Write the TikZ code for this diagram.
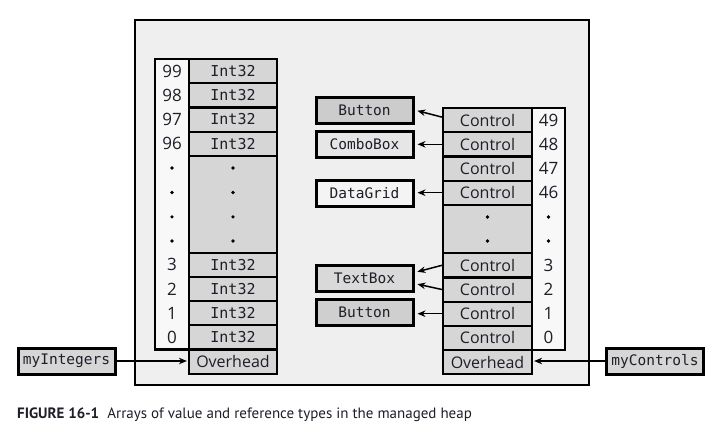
\documentclass[tikz,border=0pt]{standalone}
\usepackage{fontspec}
\setmainfont{Open Sans}
\newfontfamily\monof{DejaVu Sans Mono}
\newfontfamily\capf{PT Sans}
\usetikzlibrary{arrows.meta}
\definecolor{heapbg}{HTML}{EFEFEF}
\definecolor{cellg}{HTML}{D6D6D6}
\definecolor{idxg}{HTML}{F8F8F8}
\definecolor{refA}{HTML}{CCCCCC}
\definecolor{refB}{HTML}{E6E6E6}
\definecolor{refC}{HTML}{F4F4F4}
\definecolor{refD}{HTML}{D9D9D9}
\definecolor{txt}{HTML}{1E1E28}
\begin{document}
\begin{tikzpicture}[x=1pt,y=-1pt,
  heap/.style={draw, line width=2.5pt, fill=heapbg},
  idxframe/.style={draw, line width=2.2pt, fill=idxg, inner sep=0pt},
  icell/.style={draw, line width=2.2pt, fill=cellg, minimum width=88pt, minimum height=24.2pt, inner sep=0pt, font=\fontsize{15}{16}\monof, text=txt},
  ccell/.style={draw, line width=2.2pt, fill=cellg, minimum width=89pt, minimum height=24.2pt, inner sep=0pt, font=\fontsize{16}{17}\selectfont, text=txt},
  num/.style={inner sep=0pt, font=\fontsize{17}{18}\selectfont, text=txt},
  dot/.style={circle, fill=black, inner sep=0pt, minimum size=3.6pt},
  refbox/.style={draw, line width=3pt, minimum width=97pt, minimum height=26pt, inner sep=0pt, font=\fontsize{14.5}{16}\monof, text=txt},
  conn/.style={line width=1.5pt, -{Stealth[length=8pt,width=6.5pt]}, shorten >=3pt},
  caption/.style={inner sep=0pt, anchor=base west, font=\fontsize{15}{16}\capf, text=txt}
]
\useasboundingbox (0,0) rectangle (727,445);
% heap frame
\draw[heap] (135,20) rectangle (589,385);

% ---------- left array (Int32) ----------
\node[idxframe, minimum width=34pt, minimum height=290.4pt] (idxL) at (172,204.2) {};
\node[icell] (i99) at (233,71.1) {Int32};
\node[icell] (i98) at (233,95.3) {Int32};
\node[icell] (i97) at (233,119.5) {Int32};
\node[icell] (i96) at (233,143.7) {Int32};
\node[icell, minimum height=96.8pt] (idots) at (233,204.2) {};
\node[icell] (i3) at (233,264.7) {Int32};
\node[icell] (i2) at (233,288.9) {Int32};
\node[icell] (i1) at (233,313.1) {Int32};
\node[icell] (i0) at (233,337.3) {Int32};
\node[ccell, minimum width=88pt] (ohL) at (233,361.5) {Overhead};

\node[num] (n99) at (172,71.1) {99};
\node[num] (n98) at (172,95.3) {98};
\node[num] (n97) at (172,119.5) {97};
\node[num] (n96) at (172,143.7) {96};
\node[num] (n3) at (172,264.7) {3};
\node[num] (n2) at (172,288.9) {2};
\node[num] (n1) at (172,313.1) {1};
\node[num] (n0) at (172,337.3) {0};
\foreach \k/\y in {a/168,b/192.5,c/216.8,d/241} {
  \node[dot] (dl\k) at (172,\y) {};
  \node[dot] (dc\k) at (233,\y) {};
}

% ---------- right array (Control) ----------
\node[idxframe, minimum width=33pt, minimum height=242pt] (idxR) at (548.5,229) {};
\node[ccell] (c49) at (487.5,120.1) {Control};
\node[ccell] (c48) at (487.5,144.3) {Control};
\node[ccell] (c47) at (487.5,168.5) {Control};
\node[ccell] (c46) at (487.5,192.7) {Control};
\node[ccell, minimum height=48.4pt] (cdots) at (487.5,229) {};
\node[ccell] (c3) at (487.5,265.3) {Control};
\node[ccell] (c2) at (487.5,289.5) {Control};
\node[ccell] (c1) at (487.5,313.7) {Control};
\node[ccell] (c0) at (487.5,337.9) {Control};
\node[ccell] (ohR) at (487.5,362.1) {Overhead};

\node[num] (m49) at (548.5,120.1) {49};
\node[num] (m48) at (548.5,144.3) {48};
\node[num] (m47) at (548.5,168.5) {47};
\node[num] (m46) at (548.5,192.7) {46};
\node[num] (m3) at (548.5,265.3) {3};
\node[num] (m2) at (548.5,289.5) {2};
\node[num] (m1) at (548.5,313.7) {1};
\node[num] (m0) at (548.5,337.9) {0};
\foreach \k/\y in {a/217,b/241} {
  \node[dot] (dr\k) at (548.5,\y) {};
  \node[dot] (dm\k) at (487.5,\y) {};
}

% ---------- referenced objects ----------
\node[refbox, fill=refA] (btnA) at (364.5,110) {Button};
\node[refbox, fill=refB] (combo) at (364.5,144.5) {ComboBox};
\node[refbox, fill=refC] (grid) at (364.5,193) {DataGrid};
\node[refbox, fill=refD] (tbox) at (364.5,278) {TextBox};
\node[refbox, fill=refA!80!refD] (btnB) at (364.5,312.5) {Button};

\draw[conn] ([yshift=3pt]c49.west) -- (btnA.east);
\draw[conn] (c48.west) -- (c48.west -| combo.east);
\draw[conn] (c46.west) -- (c46.west -| grid.east);
\draw[conn] (c3.west) -- ([yshift=5.5pt]tbox.east);
\draw[conn] (c2.west) -- ([yshift=-5.5pt]tbox.east);
\draw[conn] (c1.west) -- (c1.west -| btnB.east);

% ---------- variables ----------
\node[refbox, fill=cellg] (myI) at (66.5,361) {myIntegers};
\node[refbox, fill=cellg] (myC) at (655,361) {myControls};
\draw[conn, shorten >=1pt] (myI.east) -- (myI.east -| ohL.west);
\draw[conn, shorten >=1pt] (myC.west) -- (myC.west -| ohR.east);

% ---------- caption ----------
\node[caption] (cap) at (17,418) {\textbf{FIGURE 16-1}\hspace{0.55em}Arrays of value and reference types in the managed heap};
\end{tikzpicture}
\end{document}
